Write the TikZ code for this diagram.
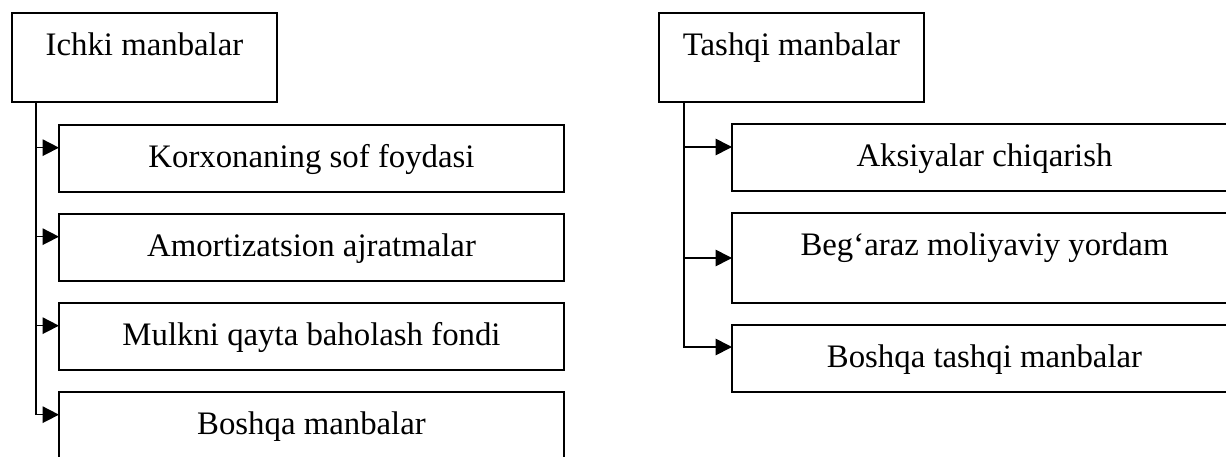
\documentclass[tikz,border=0pt]{standalone}
\usepackage{fontspec}
\setmainfont{Liberation Serif}
\usetikzlibrary{arrows.meta,positioning}

\tikzset{
  box/.style={draw,line width=0.9pt,inner xsep=0pt,inner ysep=0pt,outer sep=0pt,
    minimum width=7.575cm,text height=0.63cm,text depth=0.375cm,
    font=\fontsize{14pt}{17pt}\selectfont},
  head/.style={box,minimum width=3.975cm,text depth=0.705cm},
  tall/.style={box,text depth=0.72cm},
  link/.style={->,line width=0.7pt}
}

\begin{document}
\begin{tikzpicture}[>={Triangle[length=7pt,width=7pt]},node distance=0.33cm]
\clip (0,0) rectangle (18.39,-6.84);

\node[head,anchor=north west] (ichki) at (0.18,-0.195) {Ichki manbalar};
\node[head] (tashqi) [right=5.73cm of ichki] {Tashqi manbalar};

% ichki manbalar
\node[box] (foyda) [below=0.345cm of ichki.south west,xshift=0.705cm,anchor=north west] {Korxonaning sof foydasi};
\node[box] (amort) [below=of foyda] {Amortizatsion ajratmalar};
\node[box] (mulk) [below=of amort] {Mulkni qayta baholash fondi};
\node[box] (boshqa) [below=of mulk] {Boshqa manbalar};

% tashqi manbalar
\node[box] (aksiya) [below=0.33cm of tashqi.south west,xshift=1.095cm,anchor=north west] {Aksiyalar chiqarish};
\node[tall] (yordam) [below=of aksiya] {Beg‘araz moliyaviy yordam};
\node[box] (tboshqa) [below=of yordam] {Boshqa tashqi manbalar};

\foreach \n in {foyda,amort,mulk,boshqa}
  \draw[link] ([xshift=0.36cm]ichki.south west) |- ([yshift=-0.34cm]\n.north west);
\foreach \n/\d in {aksiya/0.345,yordam/0.675,tboshqa/0.33}
  \draw[link] ([xshift=0.375cm]tashqi.south west) |- ([yshift=-\d cm]\n.north west);

\end{tikzpicture}
\end{document}
